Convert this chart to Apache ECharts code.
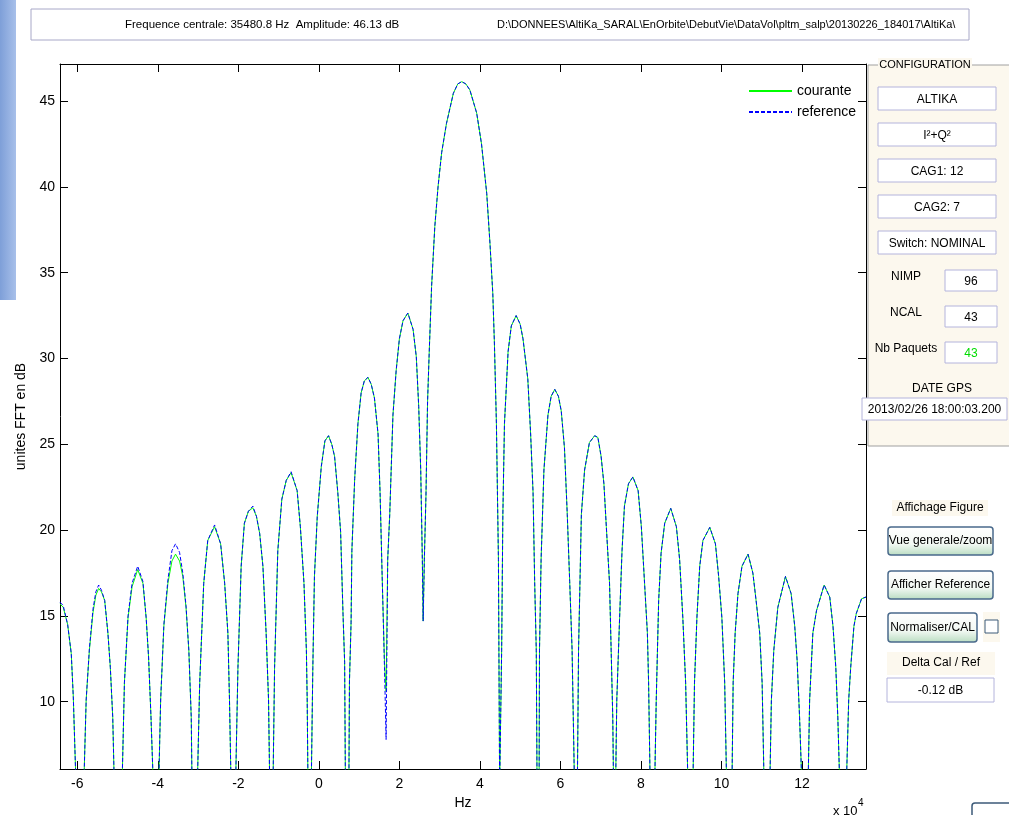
<!DOCTYPE html>
<html>
<head>
<meta charset="utf-8">
<script src="https://cdn.jsdelivr.net/npm/echarts@6/dist/echarts.min.js"></script>
<style>
  html, body { margin: 0; padding: 0; background: #fff; }
  #chart { width: 1009px; height: 815px; }
</style>
</head>
<body>
<div id="chart"></div>
<script>
// frequences en unites de 1e4 Hz
const freq = [
  -6.43, -6.35, -6.24, -6.15, -6.10, -6.03,
  -5.84, -5.78, -5.70, -5.61, -5.54, -5.47, -5.40, -5.32, -5.24, -5.18, -5.12, -5.08,
  -4.89, -4.83, -4.74, -4.64, -4.50, -4.37, -4.29, -4.23, -4.17, -4.11,
  -3.98, -3.93, -3.85, -3.75, -3.65, -3.56, -3.46, -3.38, -3.30, -3.23, -3.17, -3.15,
  -3.02, -2.96, -2.86, -2.76, -2.59, -2.44, -2.34, -2.26, -2.22, -2.18,
  -2.07, -2.01, -1.93, -1.85, -1.75, -1.64, -1.55, -1.47, -1.39, -1.31, -1.25, -1.22,
  -1.14, -1.10, -1.02, -0.92, -0.81, -0.69, -0.54, -0.46, -0.37, -0.31, -0.29, -0.27,
  -0.19, -0.15, -0.11, -0.04, 0.06, 0.15, 0.24, 0.32, 0.39, 0.47, 0.54, 0.60, 0.64, 0.66,
  0.745, 0.76, 0.80, 0.82, 0.89, 0.97, 1.05, 1.13, 1.22, 1.30, 1.38, 1.47, 1.52, 1.57, 1.63, 1.67,
  1.71, 1.76, 1.84, 1.92, 2.00, 2.09, 2.21, 2.34, 2.42, 2.48, 2.53, 2.57, 2.59,
  2.62, 2.66, 2.70, 2.74, 2.80, 2.88, 2.96, 3.05, 3.17, 3.34, 3.45, 3.548, 3.65, 3.75, 3.92,
  4.04, 4.17, 4.25, 4.32, 4.36, 4.41, 4.46, 4.49,
  4.52, 4.54, 4.57, 4.61, 4.70, 4.78, 4.90, 5.00, 5.07, 5.19, 5.26, 5.32, 5.36, 5.40, 5.42,
  5.47, 5.48, 5.52, 5.59, 5.69, 5.77, 5.86, 5.95, 6.02, 6.10, 6.17, 6.23, 6.29, 6.35,
  6.42, 6.45, 6.52, 6.60, 6.72, 6.85, 6.93, 7.01, 7.08, 7.14, 7.22, 7.26, 7.30, 7.32,
  7.37, 7.40, 7.47, 7.53, 7.59, 7.69, 7.80, 7.93, 8.01, 8.09, 8.16, 8.19, 8.23,
  8.34, 8.38, 8.44, 8.50, 8.59, 8.74, 8.88, 8.96, 9.04, 9.11, 9.17,
  9.29, 9.33, 9.39, 9.46, 9.54, 9.71, 9.85, 9.93, 10.01, 10.08, 10.13,
  10.26, 10.29, 10.34, 10.41, 10.51, 10.66, 10.78, 10.86, 10.95, 11.01, 11.06,
  11.20, 11.24, 11.30, 11.40, 11.59, 11.73, 11.82, 11.88, 11.94, 12.00,
  12.15, 12.19, 12.27, 12.36, 12.55, 12.69, 12.77, 12.84, 12.89, 12.94,
  13.10, 13.16, 13.21, 13.29, 13.35, 13.48, 13.59
];

// spectre courant, dB
const courante = [
  15.7, 15.5, 14.5, 12.8, 10.3, 5,
  5, 10.1, 13.0, 15.2, 16.2, 16.6, 16.4, 15.9, 14.0, 12.0, 9.1, 5,
  5, 11.1, 14.9, 16.7, 17.7, 16.9, 14.9, 12.6, 9.1, 5,
  5, 10.1, 14.4, 16.9, 18.2, 18.6, 18.2, 17.3, 15.5, 13.0, 9.1, 5,
  5, 11.1, 16.9, 19.4, 20.2, 19.2, 16.9, 14.0, 10.1, 5,
  5, 12.0, 17.9, 20.4, 21.1, 21.3, 20.8, 19.8, 17.9, 14.0, 10.1, 5,
  5, 12.0, 18.8, 21.8, 22.9, 23.35, 22.3, 20.2, 16.9, 13.0, 10.1, 5,
  5, 12.0, 17.3, 20.8, 23.7, 25.2, 25.5, 25.0, 24.3, 22.2, 19.9, 15.1, 12.3, 5,
  5, 11.2, 14.6, 18.8, 23.0, 26.2, 28.0, 28.7, 28.9, 28.5, 27.7, 25.6, 22.2, 17.5, 12.3, 10.6,
  18.3, 20.9, 26.7, 29.3, 31.15, 32.2, 32.65, 31.7, 30.1, 27.2, 23.5, 18.3, 14.7,
  18.3, 22.0, 27.5, 30.3, 34.2, 37.7, 40.0, 42.0, 43.7, 45.45, 46.0, 46.13, 46.0, 45.65, 44.3,
  42.5, 39.6, 36.7, 33.8, 30.9, 26.2, 18.3, 5,
  5, 13.0, 20.9, 26.2, 30.4, 31.9, 32.5, 32.0, 31.15, 28.8, 25.6, 22.2, 17.0, 13.0, 5,
  5, 13.0, 18.3, 23.5, 26.7, 27.8, 28.2, 27.8, 26.95, 24.8, 20.9, 17.0, 13.0, 5,
  5, 13.0, 20.9, 23.5, 25.1, 25.5, 25.4, 24.3, 22.7, 20.2, 16.9, 13.0, 9.1, 5,
  5, 10.1, 14.9, 18.8, 21.4, 22.7, 23.1, 22.3, 20.2, 16.9, 14.0, 11.1, 5,
  5, 10.1, 15.9, 18.65, 20.4, 21.27, 20.2, 18.3, 14.9, 11.1, 5,
  5, 11.1, 14.9, 17.9, 19.4, 20.16, 19.2, 17.3, 14.9, 11.1, 5,
  5, 11.1, 14.0, 16.3, 17.9, 18.6, 17.5, 15.9, 14.0, 11.1, 5,
  5, 10.1, 13.0, 15.5, 17.3, 16.3, 14.4, 12.4, 9.1, 5,
  5, 10.1, 14.0, 15.3, 16.8, 16.1, 14.4, 12.0, 9.1, 5,
  5, 10.1, 12.0, 14.4, 15.15, 16.0, 16.1
];

// spectre de reference, dB
const reference = [
  15.8, 15.6, 14.5, 12.8, 10.3, 5,
  5, 10.1, 13.1, 15.4, 16.4, 16.8, 16.5, 15.9, 14.0, 12.0, 9.1, 5,
  5, 11.1, 15.0, 16.9, 17.9, 17.0, 14.9, 12.6, 9.1, 5,
  5, 10.1, 14.5, 17.1, 18.8, 19.2, 18.7, 17.5, 15.6, 13.0, 9.1, 5,
  5, 11.1, 16.9, 19.4, 20.3, 19.2, 16.9, 14.0, 10.1, 5,
  5, 12.0, 17.9, 20.4, 21.1, 21.4, 20.8, 19.8, 17.9, 14.0, 10.1, 5,
  5, 12.0, 18.8, 21.8, 22.9, 23.4, 22.3, 20.2, 16.9, 13.0, 10.1, 5,
  5, 12.0, 17.3, 20.8, 23.7, 25.2, 25.5, 25.0, 24.3, 22.2, 19.9, 15.1, 12.3, 5,
  5, 11.2, 14.6, 18.8, 23.0, 26.2, 28.0, 28.7, 28.9, 28.5, 27.7, 25.6, 22.2, 17.5, 12.0, 7.8,
  18.3, 20.9, 26.7, 29.3, 31.15, 32.2, 32.65, 31.7, 30.1, 27.2, 23.5, 18.3, 14.7,
  18.3, 22.0, 27.5, 30.3, 34.2, 37.7, 40.0, 42.0, 43.7, 45.45, 46.0, 46.13, 46.0, 45.65, 44.3,
  42.5, 39.6, 36.7, 33.8, 30.9, 26.2, 18.3, 5,
  5, 13.0, 20.9, 26.2, 30.4, 31.9, 32.5, 32.0, 31.15, 28.8, 25.6, 22.2, 17.0, 13.0, 5,
  5, 13.0, 18.3, 23.5, 26.7, 27.8, 28.2, 27.8, 26.95, 24.8, 20.9, 17.0, 13.0, 5,
  5, 13.0, 20.9, 23.5, 25.1, 25.5, 25.4, 24.3, 22.7, 20.2, 16.9, 13.0, 9.1, 5,
  5, 10.1, 14.9, 18.8, 21.4, 22.7, 23.1, 22.3, 20.2, 16.9, 14.0, 11.1, 5,
  5, 10.1, 15.9, 18.65, 20.4, 21.27, 20.2, 18.3, 14.9, 11.1, 5,
  5, 11.1, 14.9, 17.9, 19.4, 20.16, 19.2, 17.3, 14.9, 11.1, 5,
  5, 11.1, 14.0, 16.3, 17.9, 18.6, 17.5, 15.9, 14.0, 11.1, 5,
  5, 10.1, 13.0, 15.5, 17.3, 16.3, 14.4, 12.4, 9.1, 5,
  5, 10.1, 14.0, 15.3, 16.8, 16.1, 14.4, 12.0, 9.1, 5,
  5, 10.1, 12.0, 14.4, 15.15, 16.0, 16.1
];

const titreInfo = 'Frequence centrale: 35480.8 Hz  Amplitude: 46.13 dB';
const titreChemin = 'D:\\DONNEES\\AltiKa_SARAL\\EnOrbite\\DebutVie\\DataVol\\pltm_salp\\20130226_184017\\AltiKa\\';
const configBoxes = ['ALTIKA', 'I\u00b2+Q\u00b2', 'CAG1: 12', 'CAG2: 7', 'Switch: NOMINAL'];
const configFields = [['NIMP', '96', '#000'], ['NCAL', '43', '#000'], ['Nb Paquets', '43', '#00dd00']];
const dateGps = '2013/02/26 18:00:03.200';
const boutons = ['Vue generale/zoom', 'Afficher Reference'];
const deltaCal = '-0.12 dB';

const FONT = '"Liberation Sans", Arial, sans-serif';
const BEIGE = '#fcf8ee';

const chart = echarts.init(document.getElementById('chart'));

function txt(x, y, s, opts) {
  opts = opts || {};
  return {
    type: 'text', x: x, y: y, z: 110,
    style: {
      text: s, fill: opts.color || '#000',
      font: (opts.size || 12) + 'px ' + FONT,
      align: opts.align || 'center', verticalAlign: 'middle'
    }
  };
}
function boite(x, y, w, h, s, color) {
  return [
    { type: 'rect', z: 100, shape: { x: x, y: y, width: w, height: h },
      style: { fill: '#fff', stroke: '#b4b4dc', lineWidth: 1 } },
    txt(x + w / 2, y + h / 2 + 1, s, { color: color })
  ];
}
function bouton(x, y, w, h, s) {
  return [
    { type: 'rect', z: 100, shape: { x: x, y: y, width: w, height: h, r: 3 },
      style: {
        fill: new echarts.graphic.LinearGradient(0, 0, 0, 1, [
          { offset: 0, color: '#ffffff' },
          { offset: 0.6, color: '#f3f9f4' },
          { offset: 1, color: '#b8dcc0' }
        ]),
        stroke: '#4a6a8c', lineWidth: 1.5
      } },
    txt(x + w / 2, y + h / 2, s)
  ];
}

const elements = [];
// bord de bureau a gauche
elements.push({ type: 'rect', z: 1, shape: { x: 0, y: 0, width: 16, height: 300 },
  style: { fill: new echarts.graphic.LinearGradient(0, 0, 1, 0, [
    { offset: 0, color: '#7e9fd8' }, { offset: 1, color: '#a8c0ea' }]) } });

// bandeau du haut
elements.push({ type: 'rect', z: 100, shape: { x: 31, y: 9, width: 938, height: 31 },
  style: { fill: '#fff', stroke: '#a8a8c8', lineWidth: 1 } });
elements.push(txt(125, 25, titreInfo, { align: 'left', size: 11.5 }));
elements.push(txt(497, 25, titreChemin, { align: 'left', size: 11 }));

// panneau CONFIGURATION
elements.push({ type: 'rect', z: 90, shape: { x: 868, y: 65, width: 150, height: 381 },
  style: { fill: BEIGE, stroke: '#a0a0a0', lineWidth: 1 } });
elements.push({ type: 'rect', z: 95, shape: { x: 878, y: 58, width: 94, height: 14 },
  style: { fill: BEIGE } });
elements.push(txt(925, 65, 'CONFIGURATION', { size: 11 }));
configBoxes.forEach(function (s, i) {
  elements.push.apply(elements, boite(878, 87 + i * 36, 118, 23, s));
});
configFields.forEach(function (f, i) {
  const y = 270 + i * 36;
  elements.push(txt(906, y + 7, f[0]));
  elements.push.apply(elements, boite(945, y, 52, 21, f[1], f[2]));
});
elements.push(txt(942, 389, 'DATE GPS'));
elements.push.apply(elements, boite(862, 398, 145, 22, dateGps));

// Affichage Figure
elements.push({ type: 'rect', z: 95, shape: { x: 892, y: 500, width: 96, height: 16 }, style: { fill: BEIGE } });
elements.push(txt(940, 508, 'Affichage Figure'));
boutons.forEach(function (s, i) {
  elements.push.apply(elements, bouton(888, 527 + i * 44, 105, 28, s));
});
elements.push.apply(elements, bouton(888, 613, 89, 29, 'Normaliser/CAL'));
elements.push({ type: 'rect', z: 95, shape: { x: 983, y: 612, width: 17, height: 30 }, style: { fill: BEIGE } });
elements.push({ type: 'rect', z: 100, shape: { x: 985, y: 620, width: 13, height: 13 },
  style: { fill: '#fff', stroke: '#3c5a78', lineWidth: 1 } });
elements.push({ type: 'rect', z: 95, shape: { x: 887, y: 652, width: 108, height: 23 }, style: { fill: BEIGE } });
elements.push(txt(941, 663, 'Delta Cal / Ref'));
elements.push.apply(elements, boite(887, 678, 107, 24, deltaCal));
// bouton coupe en bas a droite
elements.push({ type: 'rect', z: 100, shape: { x: 972, y: 803, width: 60, height: 30, r: 3 },
  style: { fill: '#fff', stroke: '#3c5a78', lineWidth: 1.5 } });

// x 10^4
elements.push(txt(833, 811, 'x 10', { align: 'left', size: 13 }));
elements.push(txt(858, 803, '4', { align: 'left', size: 10 }));

function lignes(a, b) {
  return a.map(function (v, i) { return [v, b[i]]; });
}

const axisText = { color: '#000', fontSize: 14, fontFamily: FONT };
const baseX = {
  type: 'value', min: -6.43, max: 13.59, splitNumber: 10,
  axisLine: { onZero: false, lineStyle: { color: '#000', width: 1 } },
  axisTick: { inside: true, length: 8, lineStyle: { color: '#000' } },
  splitLine: { show: false }
};
const baseY = {
  type: 'value', min: 6.08, max: 47.16, splitNumber: 8,
  axisLine: { onZero: false, lineStyle: { color: '#000', width: 1 } },
  axisTick: { inside: true, length: 8, lineStyle: { color: '#000' } },
  splitLine: { show: false }
};

const option = {
  backgroundColor: '#fff',
  animation: false,
  grid: { left: 60, top: 64, right: 143, bottom: 46 },
  legend: {
    orient: 'vertical', left: 743, top: 79,
    itemWidth: 43, itemHeight: 12, itemGap: 7,
    itemStyle: { opacity: 0 },
    lineStyle: { inactiveWidth: 1 },
    textStyle: { color: '#000', fontSize: 14, fontFamily: FONT },
    data: ['courante', 'reference']
  },
  xAxis: [
    Object.assign({}, baseX, {
      position: 'bottom',
      axisLabel: Object.assign({ margin: 8, showMinLabel: false, showMaxLabel: false }, axisText),
      name: 'Hz', nameLocation: 'middle', nameGap: 27,
      nameTextStyle: axisText
    }),
    Object.assign({}, baseX, { position: 'top', axisLabel: { show: false } })
  ],
  yAxis: [
    Object.assign({}, baseY, {
      position: 'left',
      axisLabel: Object.assign({ margin: 5, showMinLabel: false, showMaxLabel: false }, axisText),
      name: 'unites FFT en dB', nameLocation: 'middle', nameGap: 31,
      nameTextStyle: axisText
    }),
    Object.assign({}, baseY, { position: 'right', axisLabel: { show: false } })
  ],
  series: [
    {
      name: 'courante', type: 'line', symbol: 'none', clip: true,
      xAxisIndex: 0, yAxisIndex: 0,
      lineStyle: { color: '#00ff00', width: 1 },
      itemStyle: { color: '#00ff00' },
      data: lignes(freq, courante)
    },
    {
      name: 'reference', type: 'line', symbol: 'none', clip: true,
      xAxisIndex: 0, yAxisIndex: 0,
      lineStyle: { color: '#0000ff', width: 1, type: [4, 2] },
      itemStyle: { color: '#0000ff' },
      data: lignes(freq, reference)
    }
  ],
  graphic: { elements: elements }
};
chart.setOption(option);
</script>
</body>
</html>
